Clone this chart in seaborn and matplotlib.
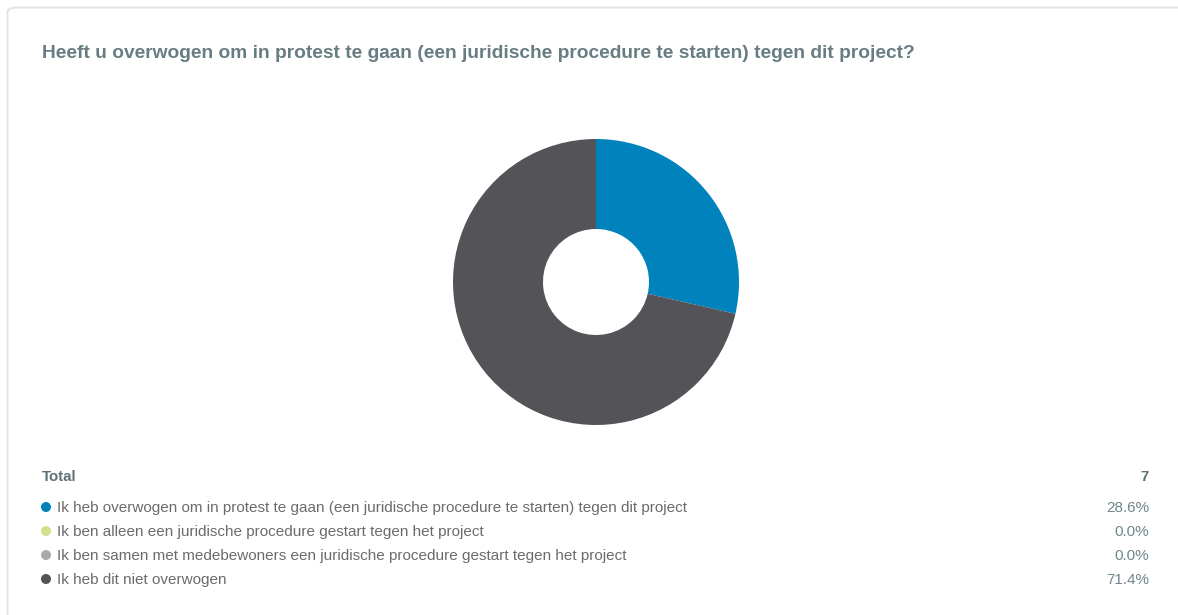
import matplotlib
matplotlib.use("Agg")
import matplotlib.pyplot as plt
from matplotlib.patches import FancyBboxPatch
import seaborn as sns

sns.set_theme(style="white")
plt.rcParams["font.family"] = ["Liberation Sans", "DejaVu Sans"]

# Survey answers and their counts
title = "Heeft u overwogen om in protest te gaan (een juridische procedure te starten) tegen dit project?"
categories = [
    "Ik heb overwogen om in protest te gaan (een juridische procedure te starten) tegen dit project",
    "Ik ben alleen een juridische procedure gestart tegen het project",
    "Ik ben samen met medebewoners een juridische procedure gestart tegen het project",
    "Ik heb dit niet overwogen",
]
counts = [2, 0, 0, 5]
colors = ["#0083bd", "#d6e08a", "#a9a9ad", "#545358"]

total = sum(counts)
shares = [100.0 * c / total for c in counts]

W, H = 1178, 615
fig = plt.figure(figsize=(W / 100, H / 100), dpi=100)
fig.patch.set_facecolor("white")

# Card frame
frame = FancyBboxPatch((7.5 / W, -20 / H), (W + 20) / W, (H - 7.5 + 20) / H,
                       boxstyle="round,pad=0,rounding_size=0.008",
                       transform=fig.transFigure, facecolor="none",
                       edgecolor="#e2e6e6", linewidth=1.5, zorder=-1)
fig.patches.append(frame)

# Donut chart
cx, cy, r = 596, 282, 143
ax = fig.add_axes([(cx - r) / W, (H - cy - r) / H, 2 * r / W, 2 * r / H])
nz = [(c, col) for c, col in zip(counts, colors) if c > 0]
ax.pie([c for c, _ in nz], colors=[col for _, col in nz], startangle=90,
       counterclock=False, radius=1.0,
       wedgeprops=dict(width=1 - 53 / 143, edgecolor="none"))
ax.set_xlim(-1, 1)
ax.set_ylim(-1, 1)
ax.set_aspect("equal")
ax.axis("off")

# Text overlay in pixel coordinates
tx = fig.add_axes([0, 0, 1, 1], facecolor="none")
tx.set_xlim(0, W)
tx.set_ylim(H, 0)
tx.axis("off")

tx.text(42, 54, title, fontsize=13.8, fontweight="bold", color="#687d82",
        va="center", ha="left")

tx.text(42, 477, "Total", fontsize=10.8, fontweight="bold", color="#5d7176",
        va="center", ha="left")
tx.text(1149, 477, str(total), fontsize=10.8, fontweight="bold", color="#5d7176",
        va="center", ha="right")

row_y = [507, 531, 555, 579]
for y, label, share, col in zip(row_y, categories, shares, colors):
    tx.scatter([46], [y], s=52, color=col, edgecolor="none")
    tx.text(57, y + 1, label, fontsize=11.0, color="#6b6b6b", va="center", ha="left")
    tx.text(1149, y + 1, f"{share:.1f}%", fontsize=11.0, color="#70858c",
            va="center", ha="right")

fig.savefig("out.png", dpi=100, facecolor="white")
